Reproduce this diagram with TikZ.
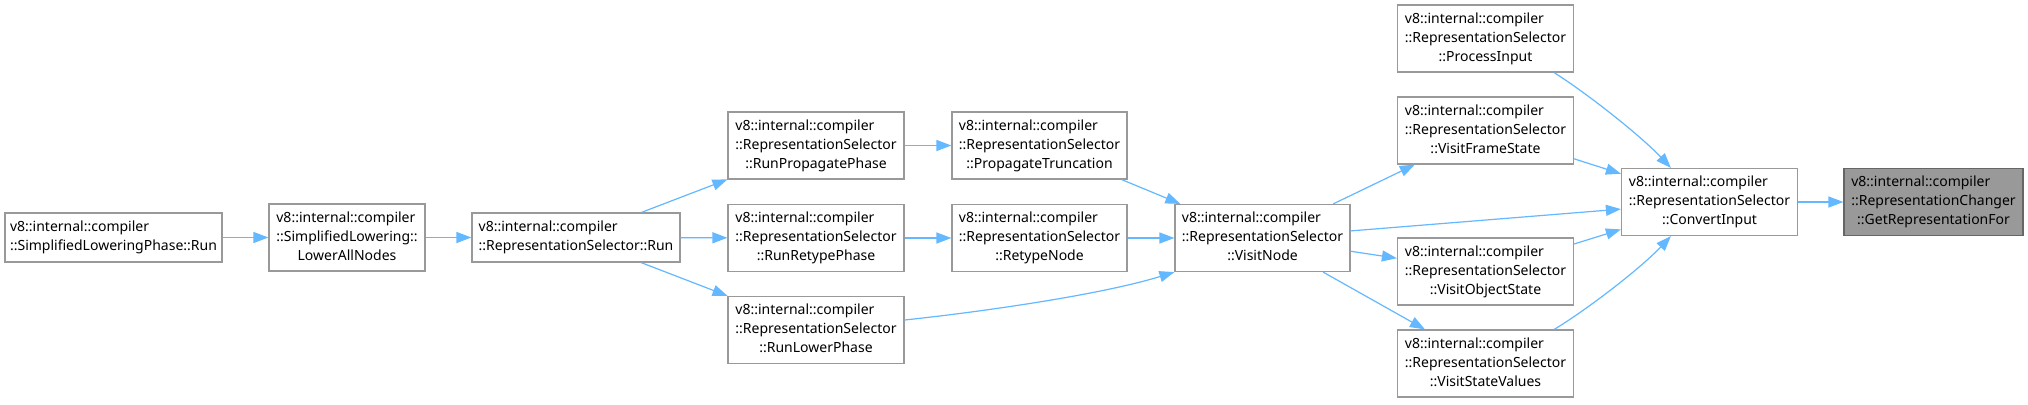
\documentclass[tikz,border=0pt]{standalone}
\usepackage{fontspec}
\setmainfont{Noto Sans}
\usetikzlibrary{arrows.meta}
\definecolor{edgec}{HTML}{63B8FF}
\definecolor{boxc}{HTML}{999999}
\definecolor{hlfill}{HTML}{999999}
\definecolor{hlbord}{HTML}{666666}
\newcommand{\tlabA}[3]{\begin{tabular}{@{}l@{}}#1\\#2\\\multicolumn{1}{@{}c@{}}{#3}\end{tabular}}
\newcommand{\tlabB}[2]{\begin{tabular}{@{}l@{}}#1\\\multicolumn{1}{@{}c@{}}{#2}\end{tabular}}
\begin{document}
\begin{tikzpicture}[x=1pt,y=1pt,
 fn/.style={draw=boxc, line width=1.2pt, fill=white, inner sep=0pt, minimum width=176pt, minimum height=67pt, font=\fontsize{14}{19}\selectfont},
 hl/.style={fn, fill=hlfill, draw=hlbord},
 call/.style={draw=edgec, line width=1.2pt, -{Triangle[length=15pt,width=11pt]}}]
\fill[white] (0,0) rectangle (2028,-404);
\useasboundingbox (0,0) rectangle (2028,-404);

\node[fn, minimum width=217pt, minimum height=49pt] (slp) at (113.5,-237.5) {\tlabB{v8::internal::compiler}{::SimplifiedLoweringPhase::Run}};
\node[fn, minimum width=156pt] (lan) at (347,-237.5) {\tlabA{v8::internal::compiler}{::SimplifiedLowering::}{LowerAllNodes}};
\node[fn, minimum width=208pt, minimum height=49pt] (run) at (576,-237.5) {\tlabB{v8::internal::compiler}{::RepresentationSelector::Run}};
\node[fn] (rpp) at (816,-145.5) {\tlabA{v8::internal::compiler}{::RepresentationSelector}{::RunPropagatePhase}};
\node[fn] (rrp) at (816,-238) {\tlabA{v8::internal::compiler}{::RepresentationSelector}{::RunRetypePhase}};
\node[fn] (rlp) at (816,-330) {\tlabA{v8::internal::compiler}{::RepresentationSelector}{::RunLowerPhase}};
\node[fn, minimum width=175pt] (pt) at (1039.5,-145.5) {\tlabA{v8::internal::compiler}{::RepresentationSelector}{::PropagateTruncation}};
\node[fn, minimum width=175pt] (rn) at (1039.5,-238) {\tlabA{v8::internal::compiler}{::RepresentationSelector}{::RetypeNode}};
\node[fn, minimum width=175pt] (vn) at (1262.5,-238) {\tlabA{v8::internal::compiler}{::RepresentationSelector}{::VisitNode}};
\node[fn] (pi) at (1485.5,-38.5) {\tlabA{v8::internal::compiler}{::RepresentationSelector}{::ProcessInput}};
\node[fn] (vfs) at (1485.5,-130.5) {\tlabA{v8::internal::compiler}{::RepresentationSelector}{::VisitFrameState}};
\node[fn] (vos) at (1485.5,-271.5) {\tlabA{v8::internal::compiler}{::RepresentationSelector}{::VisitObjectState}};
\node[fn] (vsv) at (1485.5,-363.5) {\tlabA{v8::internal::compiler}{::RepresentationSelector}{::VisitStateValues}};
\node[fn] (ci) at (1709.5,-202) {\tlabA{v8::internal::compiler}{::RepresentationSelector}{::ConvertInput}};
\node[hl, minimum width=179pt] (grf) at (1933.5,-202) {\tlabA{v8::internal::compiler}{::RepresentationChanger}{::GetRepresentationFor}};

\draw[call] (slp) -- (lan);
\draw[call] (lan) -- (run);
\draw[call] (run) -- (rpp);
\draw[call] (run) -- (rrp);
\draw[call] (run) -- (rlp);
\draw[call] (rpp) -- (pt);
\draw[call] (rrp) -- (rn);
\draw[call] ([yshift=10pt]rlp.east) .. controls (980,-312) and (1100,-295) .. (vn.south west);
\draw[call] (pt) -- (vn);
\draw[call] (rn) -- (vn);
\draw[call] (vn) -- (vfs);
\draw[call] (vn) -- (ci);
\draw[call] (vn) -- (vos);
\draw[call] (vn) -- (vsv);
\draw[call] ([xshift=-20pt]pi.south east) .. controls (1585,-92) and (1640,-135) .. ([xshift=50pt]ci.north west);
\draw[call] (vfs) -- (ci);
\draw[call] (vos) -- (ci);
\draw[call] ([xshift=-20pt]vsv.north east) .. controls (1585,-311) and (1640,-269) .. ([xshift=50pt]ci.south west);
\draw[call] (ci) -- (grf);
\end{tikzpicture}
\end{document}
